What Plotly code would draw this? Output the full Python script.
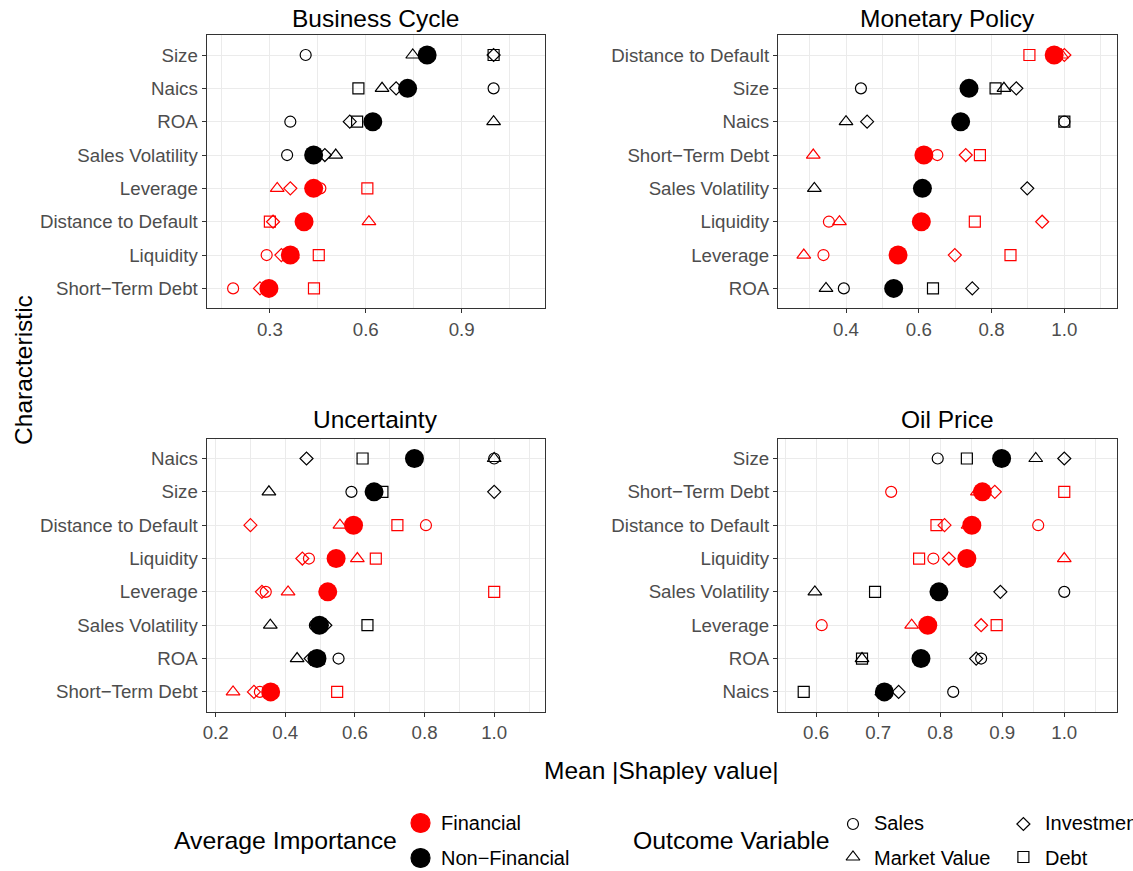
import plotly.graph_objects as go

# ---------------- data ----------------
# characteristics listed top-to-bottom within each panel
bc_chars = ["Size", "Naics", "ROA", "Sales Volatility", "Leverage",
            "Distance to Default", "Liquidity", "Short−Term Debt"]
bc_sales = [0.412, 1.000, 0.364, 0.354, 0.458, 0.410, 0.290, 0.185]
bc_market = [0.747, 0.651, 1.000, 0.506, 0.323, 0.610, 0.370, 0.296]
bc_invest = [1.000, 0.695, 0.550, 0.472, 0.364, 0.310, 0.336, 0.269]
bc_debt = [1.000, 0.577, 0.573, 0.435, 0.605, 0.300, 0.453, 0.438]
bc_avg = [0.792, 0.731, 0.622, 0.437, 0.437, 0.407, 0.364, 0.297]

mp_chars = ["Distance to Default", "Size", "Naics", "Short−Term Debt",
            "Sales Volatility", "Liquidity", "Leverage", "ROA"]
mp_sales = [0.980, 0.441, 1.000, 0.651, 0.608, 0.353, 0.338, 0.394]
mp_market = [0.992, 0.834, 0.400, 0.310, 0.313, 0.382, 0.284, 0.345]
mp_invest = [1.000, 0.868, 0.458, 0.729, 0.898, 0.939, 0.699, 0.747]
mp_debt = [0.904, 0.811, 1.000, 0.768, 0.612, 0.754, 0.852, 0.639]
mp_avg = [0.972, 0.738, 0.715, 0.614, 0.610, 0.607, 0.543, 0.531]

un_chars = ["Naics", "Size", "Distance to Default", "Liquidity", "Leverage",
            "Sales Volatility", "ROA", "Short−Term Debt"]
un_sales = [1.000, 0.590, 0.804, 0.468, 0.344, 0.485, 0.553, 0.327]
un_market = [1.000, 0.353, 0.557, 0.607, 0.408, 0.357, 0.434, 0.250]
un_invest = [0.461, 1.000, 0.300, 0.449, 0.333, 0.515, 0.473, 0.310]
un_debt = [0.622, 0.679, 0.722, 0.660, 1.000, 0.636, 0.497, 0.549]
un_avg = [0.771, 0.655, 0.596, 0.546, 0.522, 0.498, 0.491, 0.358]

op_chars = ["Size", "Short−Term Debt", "Distance to Default", "Liquidity",
            "Sales Volatility", "Leverage", "ROA", "Naics"]
op_sales = [0.796, 0.721, 0.958, 0.789, 1.000, 0.609, 0.866, 0.821]
op_market = [0.954, 0.860, 0.845, 1.000, 0.598, 0.754, 0.674, 0.706]
op_invest = [1.000, 0.888, 0.807, 0.814, 0.897, 0.866, 0.858, 0.733]
op_debt = [0.843, 1.000, 0.794, 0.766, 0.695, 0.891, 0.674, 0.580]
op_avg = [0.899, 0.868, 0.851, 0.843, 0.798, 0.780, 0.769, 0.710]

financial = {"Leverage", "Distance to Default", "Liquidity", "Short−Term Debt"}

# ---------------- styling ----------------
W, H = 1133, 871
RED, BLACK = "#FF0000", "#000000"
FONT = "Liberation Sans, Arial, Helvetica, sans-serif"
GRID = "#EBEBEB"
FRAME = "#333333"
TICKTXT = "#4D4D4D"


def px_x(p):
    return p / W


def px_y(p):
    return (H - p) / H


panels = [
    dict(title="Business Cycle", chars=bc_chars, sales=bc_sales, market=bc_market,
         invest=bc_invest, debt=bc_debt, avg=bc_avg,
         xdom=(203.3, 543.3), ydom=(35.0, 308.4), xrange=(0.102, 1.162),
         ticks=[0.3, 0.6, 0.9], minor=[0.15, 0.45, 0.75, 1.05]),
    dict(title="Monetary Policy", chars=mp_chars, sales=mp_sales, market=mp_market,
         invest=mp_invest, debt=mp_debt, avg=mp_avg,
         xdom=(776.7, 1116.7), ydom=(35.0, 308.4), xrange=(0.213, 1.144),
         ticks=[0.4, 0.6, 0.8, 1.0], minor=[0.3, 0.5, 0.7, 0.9, 1.1]),
    dict(title="Uncertainty", chars=un_chars, sales=un_sales, market=un_market,
         invest=un_invest, debt=un_debt, avg=un_avg,
         xdom=(203.3, 543.3), ydom=(438.5, 711.9), xrange=(0.174, 1.147),
         ticks=[0.2, 0.4, 0.6, 0.8, 1.0], minor=[0.3, 0.5, 0.7, 0.9, 1.1]),
    dict(title="Oil Price", chars=op_chars, sales=op_sales, market=op_market,
         invest=op_invest, debt=op_debt, avg=op_avg,
         xdom=(776.7, 1116.7), ydom=(438.5, 711.9), xrange=(0.5385, 1.0846),
         ticks=[0.6, 0.7, 0.8, 0.9, 1.0], minor=[0.55, 0.65, 0.75, 0.85, 0.95, 1.05]),
]

outcome_styles = [
    ("sales", "circle-open", 11),
    ("market", "triangle-up-open", 12),
    ("invest", "diamond-open", 10),
    ("debt", "square-open", 11),
]

fig = go.Figure()
layout = {}
annotations = []

for i, p in enumerate(panels):
    suffix = "" if i == 0 else str(i + 1)
    xname, yname = "x" + suffix, "y" + suffix
    colors = [RED if c in financial else BLACK for c in p["chars"]]

    for key, symbol, size in outcome_styles:
        fig.add_trace(go.Scatter(
            x=p[key], y=p["chars"], mode="markers", xaxis=xname, yaxis=yname,
            showlegend=False, hoverinfo="skip",
            marker=dict(symbol=symbol, size=size, color=colors,
                        line=dict(width=1.2, color=colors)),
        ))
    fig.add_trace(go.Scatter(
        x=p["avg"], y=p["chars"], mode="markers", xaxis=xname, yaxis=yname,
        showlegend=False, hoverinfo="skip",
        marker=dict(symbol="circle", size=19, color=colors, line=dict(width=0)),
    ))

    layout["xaxis" + suffix] = dict(
        domain=[px_x(p["xdom"][0]), px_x(p["xdom"][1])],
        range=list(p["xrange"]), anchor=yname,
        tickmode="array", tickvals=p["ticks"], tickformat=".1f",
        showgrid=True, gridcolor=GRID, gridwidth=1.4, zeroline=False,
        minor=dict(tickmode="array", tickvals=p["minor"], showgrid=True,
                   gridcolor=GRID, gridwidth=0.8),
        showline=True, mirror=True, linecolor=FRAME, linewidth=1.1,
        ticks="outside", ticklen=4, tickwidth=1, tickcolor=FRAME,
        tickfont=dict(family=FONT, size=18.7, color=TICKTXT),
    )
    layout["yaxis" + suffix] = dict(
        domain=[px_y(p["ydom"][1]), px_y(p["ydom"][0])],
        type="category", categoryorder="array",
        categoryarray=list(reversed(p["chars"])),
        range=[-0.6, 7.6], anchor=xname,
        showgrid=True, gridcolor=GRID, gridwidth=1.4, zeroline=False,
        showline=True, mirror=True, linecolor=FRAME, linewidth=1.1,
        ticks="outside", ticklen=4, tickwidth=1, tickcolor=FRAME,
        tickfont=dict(family=FONT, size=18.7, color=TICKTXT),
    )

    cx = (p["xdom"][0] + p["xdom"][1]) / 2
    ty = 18 if p["ydom"][0] < 100 else 419
    annotations.append(dict(
        text=p["title"], x=px_x(cx), y=px_y(ty), xref="paper", yref="paper",
        xanchor="center", yanchor="middle", showarrow=False,
        font=dict(family=FONT, size=24.5, color="#000000"),
    ))

# shared axis titles
annotations.append(dict(
    text="Characteristic", x=px_x(20), y=px_y(370), xref="paper", yref="paper",
    xanchor="center", yanchor="middle", textangle=-90, showarrow=False,
    font=dict(family=FONT, size=24.5, color="#000000"),
))
annotations.append(dict(
    text="Mean |Shapley value|", x=px_x(660), y=px_y(770), xref="paper", yref="paper",
    xanchor="center", yanchor="middle", showarrow=False,
    font=dict(family=FONT, size=24.5, color="#000000"),
))

# ---------------- legend (keys drawn on a pixel-space axis in the bottom strip) ----------------
LEG_TOP, LEG_BOT = 800, 871
legend_keys = [
    (418, 823, "circle", 19, RED),
    (418, 858, "circle", 19, BLACK),
    (852, 824, "circle-open", 11, BLACK),
    (852, 857, "triangle-up-open", 12, BLACK),
    (1023, 824, "diamond-open", 10, BLACK),
    (1023, 857, "square-open", 11, BLACK),
]
for kx, ky, sym, size, col in legend_keys:
    fig.add_trace(go.Scatter(
        x=[kx], y=[ky], mode="markers", xaxis="x5", yaxis="y5",
        showlegend=False, hoverinfo="skip", cliponaxis=False,
        marker=dict(symbol=sym, size=size, color=col, line=dict(width=1.2, color=col)),
    ))

layout["xaxis5"] = dict(domain=[0, 1], range=[0, W], visible=False, fixedrange=True,
                        anchor="y5")
layout["yaxis5"] = dict(domain=[px_y(LEG_BOT), px_y(LEG_TOP)], range=[LEG_BOT, LEG_TOP],
                        visible=False, fixedrange=True, anchor="x5")

legend_texts = [
    ("Average Importance", 169, 840, 24.8),
    ("Financial", 437, 823, 20),
    ("Non−Financial", 437, 858, 20),
    ("Outcome Variable", 629, 840, 24.8),
    ("Sales", 871, 823, 20),
    ("Market Value", 871, 858, 20),
    ("Investment", 1043, 823, 20),
    ("Debt", 1043, 858, 20),
]
for txt, tx, ty, fs in legend_texts:
    annotations.append(dict(
        text=txt, x=px_x(tx), y=px_y(ty), xref="paper", yref="paper",
        xanchor="left", yanchor="middle", showarrow=False,
        font=dict(family=FONT, size=fs, color="#000000"),
    ))

fig.update_layout(
    width=W, height=H,
    margin=dict(l=0, r=0, t=0, b=0),
    paper_bgcolor="white", plot_bgcolor="rgba(0,0,0,0)",
    font=dict(family=FONT),
    annotations=annotations,
    showlegend=False,
    **layout,
)

fig.write_html("out.html")
